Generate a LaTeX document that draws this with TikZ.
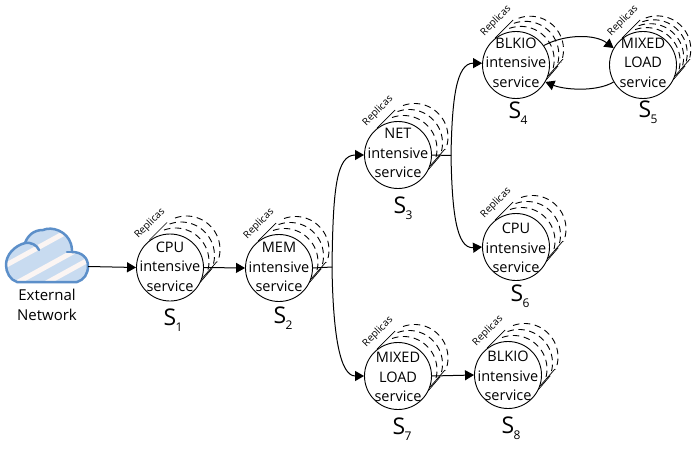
\documentclass[tikz,border=0pt]{standalone}
\usepackage{fontspec}
\setmainfont{Open Sans}
\usetikzlibrary{arrows.meta,calc}
\definecolor{cloudline}{HTML}{5C8FC9}
\definecolor{cloudfill}{HTML}{C8DBF0}
\definecolor{cloudstripe}{HTML}{FBF5F3}
\tikzset{
  svc/.style={circle,draw=black,line width=0.9pt,fill=white,minimum size=67pt,inner sep=0pt},
  svctext/.style={align=center,inner sep=0pt,font=\fontsize{14.5}{19.5}\selectfont},
  stackarc/.style={draw=black,line width=0.9pt,dash pattern=on 6.5pt off 4.5pt},
  stackedge/.style={draw=black,line width=0.7pt},
  link/.style={draw=black,line width=1pt},
  arrowed/.style={link,-{Triangle[length=9pt,width=10pt]}},
  replica/.style={font=\fontsize{10}{10}\selectfont,rotate=45,inner sep=0pt},
  sname/.style={font=\fontsize{23}{24}\selectfont,inner sep=0pt},
  sidx/.style={font=\fontsize{12}{13}\selectfont,inner sep=0pt},
  plain/.style={align=center,font=\fontsize{15}{20}\selectfont,inner sep=0pt},
  cloudstroke/.style={cloudline,line width=2.5pt,line join=round,line cap=round},
}
% service circle with its stack of dashed replicas behind it:
% name, x, y, text, subscript, text shift, label dx, label dy, replica offsets
\newcommand{\servicestack}[9]{%
  \begin{scope}[shift={(#2,#3)}]
    \foreach \k in {#9}{
      \path[stackarc] ({5.5*\k+33.5*cos(110)},{-6*\k-33.5*sin(110)}) arc[start angle=-110,end angle=22,radius=33.5];
    }
    \draw[stackedge] (-21,-27) -- (-3,-45);
    \draw[stackedge] (32,11) -- (47,-6);
    \draw[stackedge] (30,15) -- (42,1);
    \node[svc] (#1) at (0,0) {};
    \node[svctext] (#1t) at (0,#6) {#4};
    \node[replica] (#1r) at (-20,-44) {Replicas};
    \node[sname] (#1n) at (#7,#8) {S};
    \node[sidx] (#1i) at ($(#1n)+(9,10)$) {#5};
  \end{scope}
}
\begin{document}
\begin{tikzpicture}[x=1pt,y=-1pt]
\useasboundingbox (0,0) rectangle (695,449);

% cloud symbol
\def\cloudpath{(17,282) .. controls (10,280) and (6,272) .. (6,265)
  .. controls (6,255) and (14,246) .. (25,243)
  .. controls (28,235) and (34,230) .. (43,230)
  .. controls (52,226) and (67,231) .. (71,244)
  .. controls (72,248) and (72,250) .. (72,252)
  .. controls (82,252) and (88,258) .. (88,266)
  .. controls (88,274) and (84,280) .. (77,282) -- cycle}
\fill[cloudfill] \cloudpath;
\begin{scope}
  \clip \cloudpath;
  \draw[cloudstripe,line width=5pt] (0,268.5) -- (80,224.5);
  \draw[cloudstripe,line width=5pt] (10,286.6) -- (90,242.6);
  \draw[cloudstripe,line width=5pt] (40,286.5) -- (100,253.5);
\end{scope}
\draw[cloudstroke] \cloudpath;
\draw[cloudstroke] (25,243) .. controls (31,242) and (37,245) .. (39,250);
\draw[cloudstroke] (67,252) -- (72,252);
\node[inner sep=0pt,minimum width=82pt,minimum height=30pt] (cloud) at (47,266.5) {};
\node[plain] (extnet) at (47,305) {External\\Network};

% services
\servicestack{sA}{170}{267.5}{CPU\\intensive\\service}{1}{-1}{0}{49.5}{1,2,3}
\servicestack{sB}{279}{268}{MEM\\intensive\\service}{2}{-1}{1}{47}{1,2,3}
\servicestack{sC}{398}{155}{NET\\intensive\\service}{3}{-2}{2}{50}{1,2,3}
\servicestack{sD}{516}{65}{BLKIO\\intensive\\service}{4}{-2.5}{-1}{45}{0.85,1.7,2.55}
\servicestack{sE}{643}{65}{MIXED\\LOAD\\service}{5}{-2.5}{2}{44}{0.65,1.3,1.95,2.6}
\servicestack{sF}{516}{247}{CPU\\intensive\\service}{6}{1}{1}{46}{1,2,3}
\servicestack{sG}{398}{376}{MIXED\\LOAD\\service}{7}{1}{1}{50}{1,2,3}
\servicestack{sH}{508}{375}{BLKIO\\intensive\\service}{8}{1}{0}{50}{1,2,3}

% branching points
\coordinate (forkB) at (332,267);
\coordinate (forkC) at (451,155.5);

% connectors
\draw[arrowed] (cloud.east) -- (sA.west);
\draw[arrowed] (sA.east) -- (sB.west);
\draw[link] (sB.east) -- (forkB);
\draw[arrowed] (forkB) .. controls (333,190) and (336,155) .. (sC.west);
\draw[arrowed] (forkB) .. controls (333,335) and (340,376) .. (sG.west);
\draw[link] (sC.east) -- (forkC);
\draw[arrowed] (forkC) .. controls (452,100) and (456,63) .. (sD.177);
\draw[arrowed] (forkC) .. controls (452,210) and (456,249) .. (sF.west);
\draw[arrowed] (sG.east) -- (sH.west);
\draw[arrowed] (sD.35) .. controls (565,34) and (595,34) .. (sE.150);
\draw[arrowed] (sE.-150) .. controls (597,92) and (565,90) .. (sD.-30);
\end{tikzpicture}
\end{document}
